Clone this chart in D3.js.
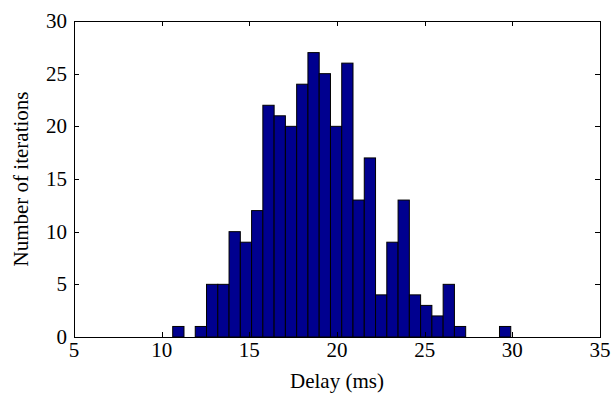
<!DOCTYPE html>
<html>
<head>
<meta charset="utf-8">
<script src="https://cdn.jsdelivr.net/npm/d3@7.9.0/dist/d3.min.js"></script>
<style>
  html, body { margin: 0; padding: 0; background: #fff; }
  svg text { font-family: "Liberation Serif", "Times New Roman", serif; fill: #000; }
</style>
</head>
<body>
<svg id="chart" width="612" height="396"></svg>
<script>
// histogram counts, 30 bins between the min and max delay
const counts = [1, 0, 1, 5, 5, 10, 9, 12, 22, 21, 20, 24, 27, 25, 20,
                26, 13, 17, 4, 9, 13, 4, 3, 2, 5, 1, 0, 0, 0, 1];
const delayMin = 10.63;
const delayMax = 29.91;
const xTicks = [5, 10, 15, 20, 25, 30, 35];
const yTicks = [0, 5, 10, 15, 20, 25, 30];

const svg = d3.select('#chart');
const plotL = 74, plotR = 600, plotT = 21, plotB = 337;

const x = d3.scaleLinear().domain([5, 35]).range([plotL, plotR]);
const y = d3.scaleLinear().domain([0, 30]).range([plotB, plotT]);

const binW = (delayMax - delayMin) / counts.length;
const bins = counts.map((c, i) => ({ x0: delayMin + i * binW, x1: delayMin + (i + 1) * binW, n: c }));

// bars (empty bins are skipped)
svg.append('g')
  .selectAll('rect')
  .data(bins.filter(d => d.n > 0))
  .enter()
  .append('rect')
  .attr('x', d => x(d.x0))
  .attr('width', d => x(d.x1) - x(d.x0))
  .attr('y', d => y(d.n))
  .attr('height', d => y(0) - y(d.n))
  .attr('fill', '#00008f')
  .attr('stroke', '#000')
  .attr('stroke-width', 1);

// axes box with inward ticks on all four sides
const tickLen = 5;
const axes = svg.append('g').attr('stroke', '#000').attr('stroke-width', 1).attr('fill', 'none');
axes.append('rect')
  .attr('x', plotL + 0.5).attr('y', plotT + 0.5)
  .attr('width', plotR - plotL).attr('height', plotB - plotT);

xTicks.forEach(t => {
  const px = Math.round(x(t)) + 0.5;
  axes.append('line').attr('x1', px).attr('x2', px).attr('y1', plotB).attr('y2', plotB - tickLen);
  axes.append('line').attr('x1', px).attr('x2', px).attr('y1', plotT).attr('y2', plotT + tickLen);
});
yTicks.forEach(t => {
  const py = Math.round(y(t)) + 0.5;
  axes.append('line').attr('x1', plotL).attr('x2', plotL + tickLen).attr('y1', py).attr('y2', py);
  axes.append('line').attr('x1', plotR).attr('x2', plotR - tickLen).attr('y1', py).attr('y2', py);
});

// tick labels
svg.append('g')
  .selectAll('text')
  .data(xTicks)
  .enter()
  .append('text')
  .attr('x', d => x(d))
  .attr('y', 357)
  .attr('text-anchor', 'middle')
  .attr('font-size', 21)
  .text(d => d);

svg.append('g')
  .selectAll('text')
  .data(yTicks)
  .enter()
  .append('text')
  .attr('x', plotL - 7)
  .attr('y', d => y(d))
  .attr('dy', '0.33em')
  .attr('text-anchor', 'end')
  .attr('font-size', 21)
  .text(d => d);

// axis titles
svg.append('text')
  .attr('x', (plotL + plotR) / 2)
  .attr('y', 388)
  .attr('text-anchor', 'middle')
  .attr('font-size', 21)
  .text('Delay (ms)');

svg.append('text')
  .attr('transform', `translate(28,${(plotT + plotB) / 2}) rotate(-90)`)
  .attr('text-anchor', 'middle')
  .attr('font-size', 21)
  .text('Number of iterations');
</script>
</body>
</html>
